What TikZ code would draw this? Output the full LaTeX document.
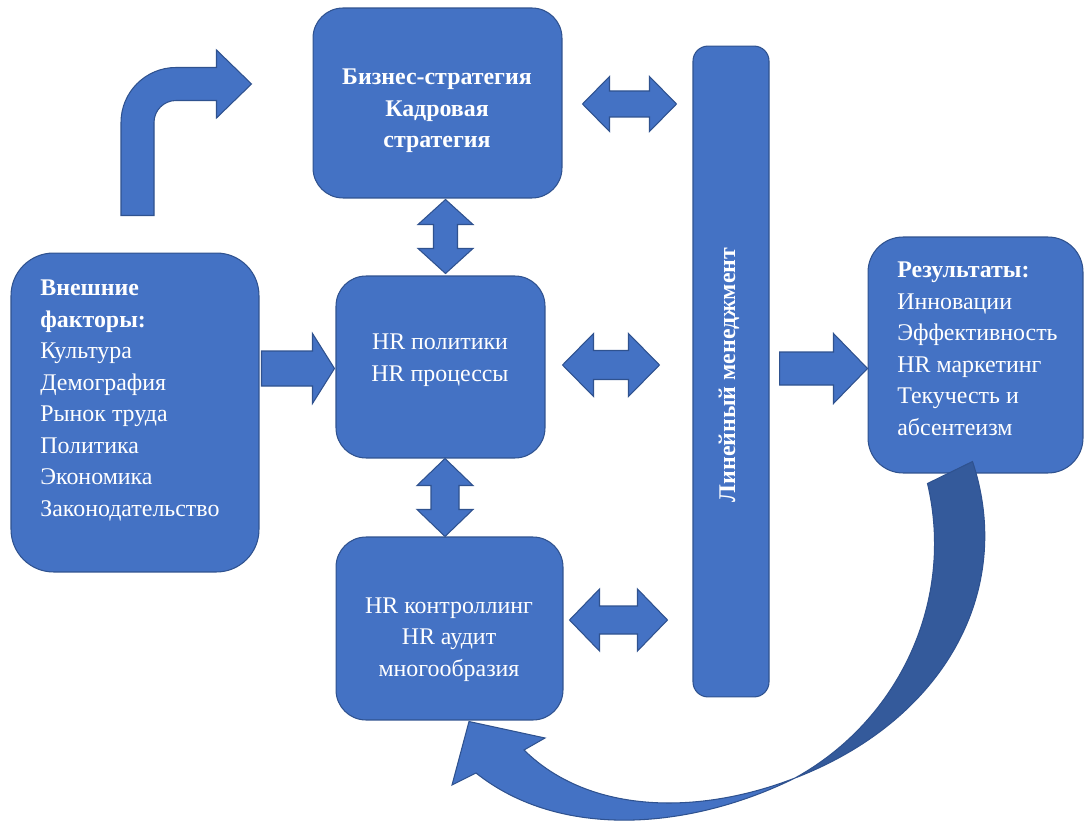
\documentclass[tikz,border=0pt]{standalone}
\usepackage{fontspec}
\setmainfont{Liberation Serif}
\usetikzlibrary{positioning,calc}

\definecolor{boxblue}{RGB}{68,114,196}
\definecolor{edgeblue}{RGB}{47,82,143}
\definecolor{backblue}{RGB}{52,90,155}

\begin{document}
\begin{tikzpicture}[
  x=0.02cm, y=-0.02cm,
  block/.style={rectangle, draw=edgeblue, fill=boxblue, line width=0.6pt,
                rounded corners=#1},
  block/.default=0.6cm,
  boxtext/.style={text=white, inner sep=0pt, font=\fontsize{13.6}{17.9}\selectfont},
  boldtext/.style={boxtext, font=\fontsize{13.6}{17.9}\selectfont\bfseries},
  bigarrow/.style={draw=edgeblue, fill=boxblue, line width=0.6pt},
  % block arrows: head length, head half width, shaft half width
  dblh/.style n args={3}{to path={
    (\tikztostart) -- ++(#1,-#2) -- ++(0,#2-#3) -- ($(\tikztotarget)+(-#1,-#3)$)
    -- ++(0,#3-#2) -- (\tikztotarget) -- ++(-#1,#2) -- ++(0,#3-#2)
    -- ($(\tikztostart)+(#1,#3)$) -- ++(0,#2-#3) -- cycle}},
  dblv/.style n args={3}{to path={
    (\tikztostart) -- ++(#2,#1) -- ++(#3-#2,0) -- ($(\tikztotarget)+(#3,-#1)$)
    -- ++(#2-#3,0) -- (\tikztotarget) -- ++(-#2,-#1) -- ++(#2-#3,0)
    -- ($(\tikztostart)+(-#3,#1)$) -- ++(#3-#2,0) -- cycle}},
  sglh/.style n args={3}{to path={
    ($(\tikztostart)+(0,-#3)$) -- ($(\tikztotarget)+(-#1,-#3)$) -- ++(0,#3-#2)
    -- (\tikztotarget) -- ++(-#1,#2) -- ++(0,#3-#2)
    -- ($(\tikztostart)+(0,#3)$) -- cycle}},
  % bent arrow: shaft half width, head length, head half width, outer/inner radius
  bent/.style n args={5}{to path={
    ($(\tikztostart)+(-#1,0)$) -- ($(\tikztostart |- \tikztotarget)+(-#1,#4-#1)$)
    arc[start angle=180, end angle=270, radius=#4]
    -- ($(\tikztotarget)+(-#2,-#1)$) -- ++(0,#1-#3) -- (\tikztotarget)
    -- ++(-#2,#3) -- ++(0,#1-#3) -- ($(\tikztostart |- \tikztotarget)+(#1+#5,#1)$)
    arc[start angle=270, end angle=180, radius=#5]
    -- ($(\tikztostart)+(#1,0)$) -- cycle}}
]
\useasboundingbox (0,0) rectangle (1084,827);

% boxes
\node[block] (biz) at (437.5,103) [minimum width=4.98cm, minimum height=3.8cm] {};
\node[block=0.85cm] (ext) at (135,412.5) [minimum width=4.96cm, minimum height=6.38cm] {};
\node[block] (hrpol) at (440.5,367) [minimum width=4.18cm, minimum height=3.64cm] {};
\node[block] (hrctrl) at (449.5,628.5) [minimum width=4.54cm, minimum height=3.66cm] {};
\node[block=0.3cm] (lm) at (731,371.5) [minimum width=1.52cm, minimum height=13.02cm] {};
\node[block=0.7cm] (res) at (975.5,355) [minimum width=4.3cm, minimum height=4.72cm] {};

% arrow ends
\coordinate (bent-a) at ($(ext.north)+(2.5,-37)$);
\coordinate (bent-b) at ($(biz.west)+(-61,-19)$);
\coordinate (bizlm-a) at ($(biz.east)+(20,1)$);
\coordinate (bizlm-b) at ($(biz.east -| lm.west)+(-16,1)$);
\coordinate (pollm-a) at ($(hrpol.east)+(17,-2)$);
\coordinate (pollm-b) at ($(hrpol.east -| lm.west)+(-33,-2)$);
\coordinate (ctrllm-a) at ($(hrctrl.east)+(6,-8.5)$);
\coordinate (ctrllm-b) at ($(hrctrl.east -| lm.west)+(-25,-8.5)$);
\coordinate (bizpol-a) at ($(biz.south)+(8,1)$);
\coordinate (bizpol-b) at ($(hrpol.north)+(5,-2)$);
\coordinate (polctrl-a) at ($(hrpol.south)+(4.5,0)$);
\coordinate (polctrl-b) at ($(hrctrl.north)+(-4.5,0)$);
\coordinate (extpol-a) at ($(ext.east)+(2,-44)$);
\coordinate (extpol-b) at ($(ext.east -| hrpol.west)+(-1,-44)$);
\coordinate (lmres-a) at ($(lm.east)+(10,-3)$);
\coordinate (lmres-b) at ($(lm.east -| res.west)+(0,-3)$);

\path[bigarrow] (bent-a) to[bent={16.5}{35}{34}{55}{22}] (bent-b);
\path[bigarrow] (bizlm-a) to[dblh={27}{27.5}{13}] (bizlm-b);
\path[bigarrow] (pollm-a) to[dblh={31}{31.5}{14.5}] (pollm-b);
\path[bigarrow] (ctrllm-a) to[dblh={30}{31}{14}] (ctrllm-b);
\path[bigarrow] (bizpol-a) to[dblv={25}{27.5}{12}] (bizpol-b);
\path[bigarrow] (polctrl-a) to[dblv={27}{28}{14}] (polctrl-b);
\path[bigarrow] (extpol-a) to[sglh={22}{35}{17.5}] (extpol-b);
\path[bigarrow] (lmres-a) to[sglh={34}{35}{16.5}] (lmres-b);

% texts
\node[boldtext, align=center] (biztext) at (437,111) {Бизнес-стратегия\\Кадровая\\стратегия};
\node[boxtext, align=left, anchor=north west] (exttext) at (40,280)
  {\textbf{Внешние}\\\textbf{факторы:}\\Культура\\Демография\\Рынок труда\\Политика\\Экономика\\Законодательство};
\node[boxtext, align=center] (poltext) at (440,360) {HR политики\\HR процессы};
\node[boxtext, align=center] (ctrltext) at (449,639.5) {HR контроллинг\\HR аудит\\многообразия};
\node[boldtext, rotate=90] (lmtext) at (729,375) {Линейный менеджмент};
\node[boxtext, align=left, anchor=north west] (restext) at (897,262)
  {\textbf{Результаты:}\\Инновации\\Эффективность\\HR маркетинг\\Текучесть и\\абсентеизм};

% feedback arrow from results
\coordinate (back-a) at ($(res.south)+(-48,10)$);
\coordinate (back-b) at ($(res.south)+(-3,-12)$);
\coordinate (twist) at (795,778);
\coordinate (curvetip) at ($(hrctrl.south)+(19.5,1)$);
\filldraw[draw=edgeblue, fill=backblue, line width=0.6pt]
  (back-a) -- (back-b) .. controls (1015,590) and (945,720) .. (twist)
  .. controls (900,720) and (955,600) .. (back-a) -- cycle;
\filldraw[bigarrow]
  (twist) .. controls (690,830) and (560,840) .. (476,773) -- (452,785) -- (curvetip)
  -- (545,738) -- (524,750) .. controls (590,815) and (700,815) .. (twist) -- cycle;
\end{tikzpicture}
\end{document}
